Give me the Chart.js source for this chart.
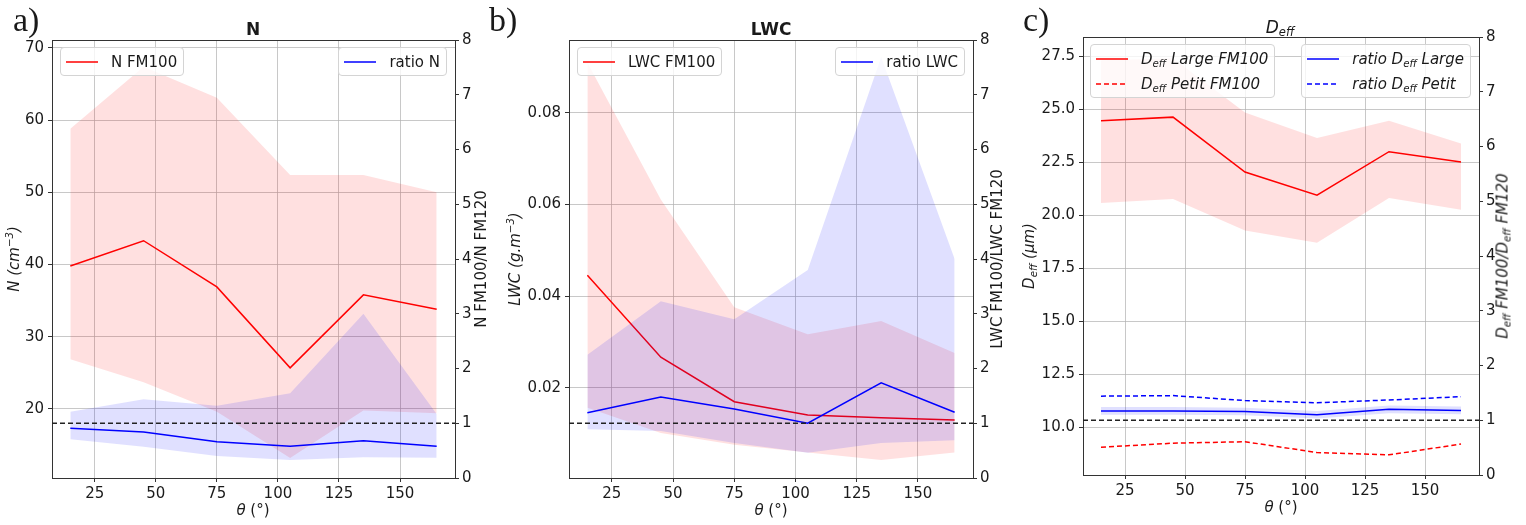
<!DOCTYPE html>
<html>
<head>
<meta charset="utf-8">
<script src="https://cdn.jsdelivr.net/npm/chart.js@4.4.1/dist/chart.umd.min.js"></script>
<style>
body { margin: 0; width: 1526px; height: 525px; background: #fff; position: relative; overflow: hidden; font-family: "DejaVu Sans", sans-serif; color: #1a1a1a; }
canvas { position: absolute; left: 0; top: 0; }
.txt { position: absolute; white-space: nowrap; transform: translate(-50%, -50%); font-size: 15px; line-height: 1; z-index: 5; }
.rot { transform: translate(-50%, -50%) rotate(-90deg); }
.ttl { font-size: 17px; }
.lbl { position: absolute; font-family: "Liberation Serif", serif; font-size: 34px; line-height: 1; z-index: 5; }
.leg { position: absolute; background: rgba(255,255,255,0.8); border: 1px solid #d4d4d4; border-radius: 4px; padding: 1px 6px 1px 5px; font-size: 15px; z-index: 5; }
.row { display: flex; align-items: center; height: 25px; white-space: nowrap; }
.row svg { flex: none; margin-right: 13px; }
sub { font-size: 68%; vertical-align: -0.3em; line-height: 0; }
sup { font-size: 68%; vertical-align: 0.55em; line-height: 0; }
</style>
</head>
<body>
<canvas id="chart_n" width="1526" height="525"></canvas>
<canvas id="chart_lwc" width="1526" height="525"></canvas>
<canvas id="chart_deff" width="1526" height="525"></canvas>

<!-- パネル番号 -->
<div class="lbl" style="left:13px;top:3px">a)</div>
<div class="lbl" style="left:489px;top:3px">b)</div>
<div class="lbl" style="left:1023px;top:3px">c)</div>

<!-- タイトル -->
<div class="txt ttl" style="left:253px;top:29px;font-weight:bold">N</div>
<div class="txt ttl" style="left:771px;top:29px;font-weight:bold">LWC</div>
<div class="txt ttl" style="left:1280px;top:27px"><i>D<sub>eff</sub></i></div>

<!-- 軸ラベル -->
<div class="txt rot" style="left:14px;top:259px"><i>N (cm<sup>−3</sup>)</i></div>
<div class="txt rot" style="left:481px;top:259px">N FM100/N FM120</div>
<div class="txt" style="left:253px;top:510px"><i>θ</i> (°)</div>
<div class="txt rot" style="left:515px;top:259px"><i>LWC (g.m<sup>−3</sup>)</i></div>
<div class="txt rot" style="left:997px;top:259px">LWC FM100/LWC FM120</div>
<div class="txt" style="left:771px;top:510px"><i>θ</i> (°)</div>
<div class="txt rot" style="left:1029px;top:256px"><i>D<sub>eff</sub> (μm)</i></div>
<div class="txt rot" style="left:1503px;top:256px"><i>D<sub>eff</sub> FM100/D<sub>eff</sub> FM120</i></div>
<div class="txt" style="left:1281px;top:507px"><i>θ</i> (°)</div>

<!-- 凡例 -->
<div class="leg" style="left:60px;top:47px">
  <div class="row" data-color="#ff0000">N FM100</div>
</div>
<div class="leg" style="right:1079px;top:47px">
  <div class="row" data-color="#0000ff">ratio N</div>
</div>
<div class="leg" style="left:577px;top:47px">
  <div class="row" data-color="#ff0000">LWC FM100</div>
</div>
<div class="leg" style="right:561px;top:47px">
  <div class="row" data-color="#0000ff">ratio LWC</div>
</div>
<div class="leg" style="left:1090px;top:44px">
  <div class="row" data-color="#ff0000"><i>D<sub>eff</sub> Large FM100</i></div>
  <div class="row" data-color="#ff0000" data-dash="1"><i>D<sub>eff</sub> Petit FM100</i></div>
</div>
<div class="leg" style="right:55px;top:44px">
  <div class="row" data-color="#0000ff"><i>ratio D<sub>eff</sub> Large</i></div>
  <div class="row" data-color="#0000ff" data-dash="1"><i>ratio D<sub>eff</sub> Petit</i></div>
</div>

<script>
// 角度 (°)
const theta = [15, 45, 75, 105, 135, 165];
const thetaMin = 7.5;
const thetaMax = 172.5;
const ratioRef = 1;

// a) N
const nFm100 = [39.8, 43.3, 36.9, 25.7, 35.8, 33.8];
const nFm100Haut = [58.8, 67.4, 63.1, 52.4, 52.4, 50.0];
const nFm100Bas = [26.9, 23.7, 19.6, 13.2, 19.8, 19.4];
const ratioN = [0.91, 0.84, 0.66, 0.58, 0.68, 0.58];
const ratioNHaut = [1.21, 1.44, 1.32, 1.55, 3.00, 1.17];
const ratioNBas = [0.71, 0.57, 0.40, 0.33, 0.38, 0.37];

// b) LWC
const lwcFm100 = [0.0446, 0.0267, 0.0170, 0.0141, 0.0135, 0.0130];
const lwcFm100Haut = [0.0910, 0.0611, 0.0376, 0.0317, 0.0346, 0.0276];
const lwcFm100Bas = [0.0157, 0.0102, 0.0076, 0.0059, 0.0043, 0.0059];
const ratioLwc = [1.19, 1.48, 1.26, 1.00, 1.74, 1.20];
const ratioLwcHaut = [2.25, 3.23, 2.90, 3.80, 7.69, 4.00];
const ratioLwcBas = [0.89, 0.86, 0.64, 0.46, 0.64, 0.69];

// c) Deff
const dLarge = [24.45, 24.62, 22.03, 20.94, 22.99, 22.50];
const dLargeHaut = [27.3, 27.4, 24.84, 23.64, 24.45, 23.38];
const dLargeBas = [20.57, 20.76, 19.27, 18.70, 20.80, 20.25];
const dPetit = [9.05, 9.24, 9.31, 8.80, 8.69, 9.20];
const ratioDLarge = [1.17, 1.17, 1.16, 1.10, 1.20, 1.18];
const ratioDLargeHaut = [1.24, 1.24, 1.23, 1.17, 1.27, 1.25];
const ratioDLargeBas = [1.10, 1.10, 1.09, 1.03, 1.13, 1.11];
const ratioDPetit = [1.44, 1.45, 1.36, 1.32, 1.37, 1.43];

const RED = '#ff0000';
const BLUE = '#0000ff';
const RED_FILL = 'rgba(255, 0, 0, 0.12)';
const BLUE_FILL = 'rgba(0, 0, 255, 0.12)';
const GRID = 'rgba(176, 176, 176, 0.7)';
const AXIS = '#333333';

Chart.defaults.font.family = '"DejaVu Sans", sans-serif';
Chart.defaults.font.size = 15;
Chart.defaults.color = '#1a1a1a';

// 凡例の線サンプルを SVG で追加
document.querySelectorAll('.row').forEach(row => {
    const ns = 'http://www.w3.org/2000/svg';
    const svg = document.createElementNS(ns, 'svg');
    svg.setAttribute('width', '32');
    svg.setAttribute('height', '6');
    const line = document.createElementNS(ns, 'line');
    line.setAttribute('x1', '0');
    line.setAttribute('x2', '32');
    line.setAttribute('y1', '3');
    line.setAttribute('y2', '3');
    line.setAttribute('stroke', row.dataset.color);
    line.setAttribute('stroke-width', '1.5');
    if (row.dataset.dash) line.setAttribute('stroke-dasharray', '5 3');
    svg.appendChild(line);
    row.insertBefore(svg, row.firstChild);
});

// 上側の枠線
const framePlugin = {
    id: 'frame',
    afterDraw(chart) {
        const a = chart.chartArea;
        const ctx = chart.ctx;
        ctx.save();
        ctx.strokeStyle = AXIS;
        ctx.lineWidth = 1;
        ctx.beginPath();
        ctx.moveTo(a.left, a.top + 0.5);
        ctx.lineTo(a.right, a.top + 0.5);
        ctx.stroke();
        ctx.restore();
    }
};

function toPoints(values) {
    return theta.map((t, i) => ({x: t, y: values[i]}));
}

// 折れ線のデータセット
function lineDataset(values, color, axis, dash) {
    return {
        data: toPoints(values),
        borderColor: color,
        borderWidth: 1.5,
        borderDash: dash || [],
        pointRadius: 0,
        fill: false,
        tension: 0,
        yAxisID: axis
    };
}

// 帯 (上限と下限) のデータセット
function bandDatasets(haut, bas, fillColor, axis) {
    return [
        {
            data: toPoints(haut),
            borderColor: 'rgba(0,0,0,0)',
            borderWidth: 1,
            pointRadius: 0,
            backgroundColor: fillColor,
            fill: {target: '+1', above: fillColor, below: fillColor},
            yAxisID: axis
        },
        {
            data: toPoints(bas),
            borderColor: 'rgba(0,0,0,0)',
            borderWidth: 1,
            pointRadius: 0,
            fill: false,
            yAxisID: axis
        }
    ];
}

// 比 = 1 の破線
function refDataset() {
    return {
        data: [{x: thetaMin, y: ratioRef}, {x: thetaMax, y: ratioRef}],
        borderColor: '#222222',
        borderWidth: 1.3,
        borderDash: [5, 3],
        pointRadius: 0,
        fill: false,
        yAxisID: 'y2'
    };
}

// グラフを作成
function createChart(id, area, leftAxis, datasets) {
    const WL = 50, WR = 30, HX = 35;
    new Chart(document.getElementById(id), {
        type: 'line',
        data: {datasets: datasets},
        options: {
            responsive: false,
            animation: false,
            devicePixelRatio: 1,
            events: [],
            layout: {
                padding: {
                    left: area.left - WL,
                    right: 1526 - area.right - WR,
                    top: area.top,
                    bottom: 525 - area.bottom - HX
                }
            },
            plugins: {
                legend: {display: false},
                tooltip: {enabled: false}
            },
            scales: {
                x: {
                    type: 'linear',
                    min: thetaMin,
                    max: thetaMax,
                    afterFit: s => { s.height = HX; },
                    ticks: {stepSize: 25, includeBounds: false, padding: 3, maxRotation: 0, autoSkip: false},
                    grid: {color: GRID, tickColor: AXIS, tickLength: 4},
                    border: {color: AXIS}
                },
                y: {
                    position: 'left',
                    min: leftAxis.min,
                    max: leftAxis.max,
                    afterFit: s => { s.width = WL; },
                    ticks: {
                        stepSize: leftAxis.step,
                        includeBounds: false,
                        padding: 4,
                        autoSkip: false,
                        callback: v => v.toFixed(leftAxis.digits)
                    },
                    grid: {color: GRID, tickColor: AXIS, tickLength: 4},
                    border: {color: AXIS}
                },
                y2: {
                    position: 'right',
                    min: 0,
                    max: 8,
                    afterFit: s => { s.width = WR; },
                    ticks: {stepSize: 1, padding: 3, autoSkip: false},
                    grid: {drawOnChartArea: false, tickColor: AXIS, tickLength: 4},
                    border: {color: AXIS}
                }
            }
        },
        plugins: [framePlugin]
    });
}

// a) N
createChart('chart_n', {left: 52, right: 455, top: 40, bottom: 478},
    {min: 10.44, max: 71.1, step: 10, digits: 0},
    [
        refDataset(),
        lineDataset(ratioN, BLUE, 'y2'),
        ...bandDatasets(ratioNHaut, ratioNBas, BLUE_FILL, 'y2'),
        lineDataset(nFm100, RED, 'y'),
        ...bandDatasets(nFm100Haut, nFm100Bas, RED_FILL, 'y')
    ]);

// b) LWC
createChart('chart_lwc', {left: 569, right: 973, top: 40, bottom: 478},
    {min: 0.00036, max: 0.0959, step: 0.02, digits: 2},
    [
        refDataset(),
        lineDataset(ratioLwc, BLUE, 'y2'),
        ...bandDatasets(ratioLwcHaut, ratioLwcBas, BLUE_FILL, 'y2'),
        lineDataset(lwcFm100, RED, 'y'),
        ...bandDatasets(lwcFm100Haut, lwcFm100Bas, RED_FILL, 'y')
    ]);

// c) Deff
createChart('chart_deff', {left: 1083, right: 1479, top: 37, bottom: 475},
    {min: 7.74, max: 28.4, step: 2.5, digits: 1},
    [
        refDataset(),
        lineDataset(ratioDPetit, BLUE, 'y2', [5, 3]),
        lineDataset(ratioDLarge, BLUE, 'y2'),
        ...bandDatasets(ratioDLargeHaut, ratioDLargeBas, BLUE_FILL, 'y2'),
        lineDataset(dPetit, RED, 'y', [5, 3]),
        lineDataset(dLarge, RED, 'y'),
        ...bandDatasets(dLargeHaut, dLargeBas, RED_FILL, 'y')
    ]);
</script>
</body>
</html>
